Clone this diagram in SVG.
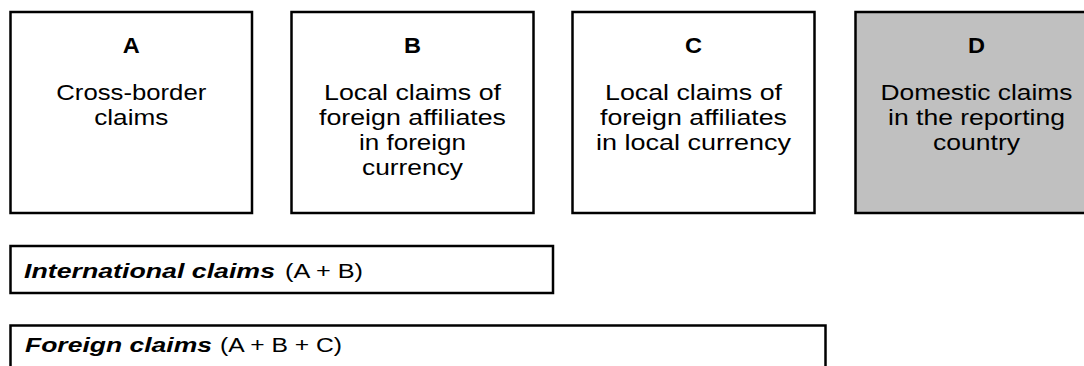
<svg xmlns="http://www.w3.org/2000/svg" width="1084" height="366" viewBox="0 0 1084 366">
  <style>
    .box { fill: #ffffff; stroke: #000000; stroke-width: 2.5; }
    .grey { fill: #c0c0c0; }
    .t { font-family: "Liberation Sans", Arial, sans-serif; fill: #000000; }
    .head { font-size: 21.5px; font-weight: bold; text-anchor: middle; }
    .body { font-size: 21.5px; text-anchor: middle; }
    .sum { font-size: 19.5px; }
    .bi { font-weight: bold; font-style: italic; }
  </style>
  <rect width="1084" height="366" fill="#ffffff"/>

  <g id="node-A">
    <rect class="box" x="10.5" y="12" width="241.5" height="201"/>
    <text class="t head" x="131.25" y="52.5" textLength="17" lengthAdjust="spacingAndGlyphs">A</text>
    <text class="t body" x="131.25" y="100" textLength="150" lengthAdjust="spacingAndGlyphs">Cross-border</text>
    <text class="t body" x="131.25" y="125" textLength="74" lengthAdjust="spacingAndGlyphs">claims</text>
  </g>

  <g id="node-B">
    <rect class="box" x="291.5" y="12" width="242" height="201"/>
    <text class="t head" x="412.5" y="52.5" textLength="17" lengthAdjust="spacingAndGlyphs">B</text>
    <text class="t body" x="412.5" y="100" textLength="177" lengthAdjust="spacingAndGlyphs">Local claims of</text>
    <text class="t body" x="412.5" y="125" textLength="187" lengthAdjust="spacingAndGlyphs">foreign affiliates</text>
    <text class="t body" x="412.5" y="150" textLength="107" lengthAdjust="spacingAndGlyphs">in foreign</text>
    <text class="t body" x="412.5" y="175" textLength="101" lengthAdjust="spacingAndGlyphs">currency</text>
  </g>

  <g id="node-C">
    <rect class="box" x="572.5" y="12" width="242" height="201"/>
    <text class="t head" x="693.5" y="52.5" textLength="17" lengthAdjust="spacingAndGlyphs">C</text>
    <text class="t body" x="693.5" y="100" textLength="177" lengthAdjust="spacingAndGlyphs">Local claims of</text>
    <text class="t body" x="693.5" y="125" textLength="187" lengthAdjust="spacingAndGlyphs">foreign affiliates</text>
    <text class="t body" x="693.5" y="150" textLength="195" lengthAdjust="spacingAndGlyphs">in local currency</text>
  </g>

  <g id="node-D">
    <rect class="box grey" x="855.5" y="12" width="242" height="201"/>
    <text class="t head" x="976.5" y="52.5" textLength="17" lengthAdjust="spacingAndGlyphs">D</text>
    <text class="t body" x="976.5" y="100" textLength="192" lengthAdjust="spacingAndGlyphs">Domestic claims</text>
    <text class="t body" x="976.5" y="125" textLength="177" lengthAdjust="spacingAndGlyphs">in the reporting</text>
    <text class="t body" x="976.5" y="150" textLength="87" lengthAdjust="spacingAndGlyphs">country</text>
  </g>

  <g id="node-international">
    <rect class="box" x="10.5" y="246" width="542.5" height="47"/>
    <text class="t sum" y="277.5"><tspan class="bi" x="24" textLength="251" lengthAdjust="spacingAndGlyphs">International claims</tspan><tspan x="285" textLength="78" lengthAdjust="spacingAndGlyphs">(A + B)</tspan></text>
  </g>

  <g id="node-foreign">
    <rect class="box" x="10.5" y="325.5" width="815" height="50"/>
    <text class="t sum" y="351.5"><tspan class="bi" x="25" textLength="187" lengthAdjust="spacingAndGlyphs">Foreign claims</tspan><tspan x="220" textLength="122" lengthAdjust="spacingAndGlyphs">(A + B + C)</tspan></text>
  </g>

  <g id="connectors"></g>
</svg>
